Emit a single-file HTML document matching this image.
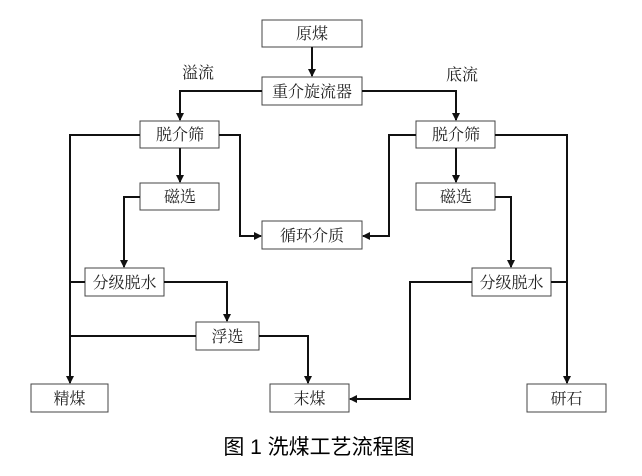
<!DOCTYPE html>
<html><head><meta charset="utf-8"><style>
body{margin:0;background:#fff;}
svg text{font-family:"Liberation Serif","Noto Serif CJK SC",serif;font-size:16px;fill:#222;}
</style></head><body>
<svg width="642" height="471" viewBox="0 0 642 471" xmlns="http://www.w3.org/2000/svg">
<defs><marker id="a" markerWidth="8" markerHeight="8" refX="7" refY="4" orient="auto" markerUnits="userSpaceOnUse"><path d="M0,0 L8,4 L0,8 z" fill="#111"/></marker></defs>
<g fill="#fff" stroke="#444" stroke-width="1">
<rect x="262" y="20" width="100" height="27"/>
<rect x="262" y="77" width="100" height="28"/>
<rect x="140" y="121" width="79" height="27"/>
<rect x="416" y="121" width="79" height="27"/>
<rect x="140" y="183" width="79" height="27"/>
<rect x="416" y="183" width="79" height="27"/>
<rect x="262" y="221" width="100" height="28"/>
<rect x="85" y="268" width="79" height="28"/>
<rect x="472" y="268" width="79" height="28"/>
<rect x="196" y="322" width="63" height="28"/>
<rect x="31" y="384" width="77" height="28"/>
<rect x="270" y="384" width="79" height="28"/>
<rect x="527" y="384" width="79" height="28"/>
</g>
<g fill="none" stroke="#111" stroke-width="2">
<path d="M312 47 V76" marker-end="url(#a)"/>
<path d="M262 91 H180 V120" marker-end="url(#a)"/>
<path d="M362 91 H456 V120" marker-end="url(#a)"/>
<path d="M180 148 V182" marker-end="url(#a)"/>
<path d="M456 148 V182" marker-end="url(#a)"/>
<path d="M219 135 H240 V236 H261" marker-end="url(#a)"/>
<path d="M416 135 H389 V236 H363" marker-end="url(#a)"/>
<path d="M140 135 H70 V383" marker-end="url(#a)"/>
<path d="M495 135 H567 V383" marker-end="url(#a)"/>
<path d="M140 197 H124 V267" marker-end="url(#a)"/>
<path d="M495 197 H511 V267" marker-end="url(#a)"/>
<path d="M85 282 H70"/>
<path d="M164 282 H227 V321" marker-end="url(#a)"/>
<path d="M196 336 H70"/>
<path d="M259 336 H308 V383" marker-end="url(#a)"/>
<path d="M472 282 H410 V399 H350" marker-end="url(#a)"/>
<path d="M551 282 H567"/>
</g>
<g text-anchor="middle">
<text x="312" y="39">原煤</text>
<text x="312" y="97">重介旋流器</text>
<text x="180" y="140">脱介筛</text>
<text x="456" y="140">脱介筛</text>
<text x="180" y="202">磁选</text>
<text x="456" y="202">磁选</text>
<text x="312" y="241">循环介质</text>
<text x="124.5" y="288">分级脱水</text>
<text x="511.5" y="288">分级脱水</text>
<text x="227.5" y="342">浮选</text>
<text x="69.5" y="404">精煤</text>
<text x="309.5" y="404">末煤</text>
<text x="566.5" y="404">研石</text>
<text x="198" y="78">溢流</text>
<text x="462" y="80">底流</text>
<text x="319" y="454" style="font-family:'Liberation Sans','Noto Sans CJK SC',sans-serif;font-size:21px;fill:#000">图 1  洗煤工艺流程图</text>
</g>
</svg>
</body></html>
